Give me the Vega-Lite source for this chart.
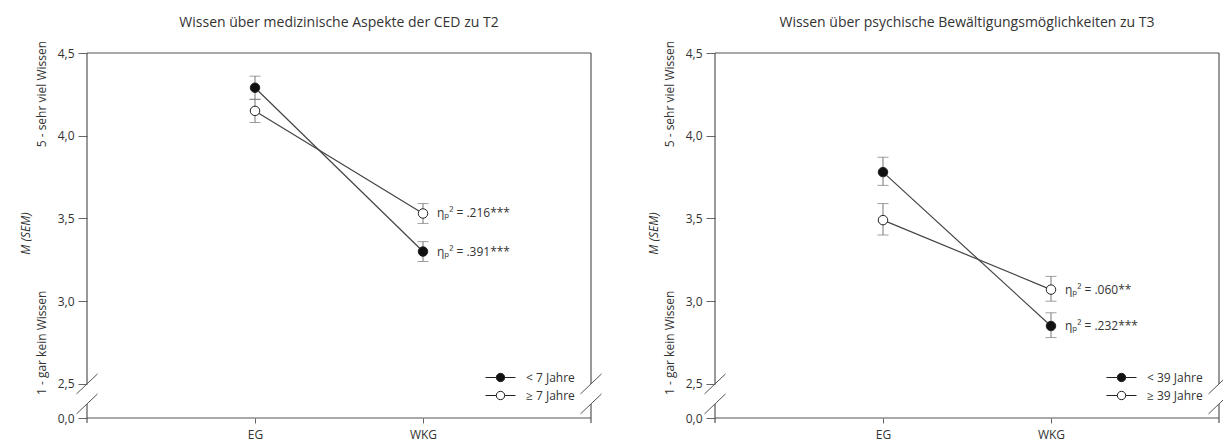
{
  "$schema": "https://vega.github.io/schema/vega-lite/v6.json",
  "padding": {"left": 19, "top": 16, "right": 0, "bottom": 5},
  "spacing": 45,
  "config": {
    "font": "Open Sans",
    "view": {"stroke": null},
    "title": {"fontSize": 14, "fontWeight": "normal", "color": "#333", "offset": 10, "anchor": "middle", "frame": "group"},
    "legend": {
      "orient": "bottom-right",
      "offset": 16,
      "padding": 0,
      "title": null,
      "symbolType": "M-1.667,0H-0.467M0.467,0H1.667M-0.467,0A0.467,0.467,0,1,1,0.467,0A0.467,0.467,0,1,1,-0.467,0Z",
      "symbolSize": 324,
      "symbolStrokeColor": "#222",
      "symbolStrokeWidth": 1,
      "labelFontSize": 12,
      "labelColor": "#333",
      "labelOffset": 16,
      "rowPadding": 2
    }
  },
  "datasets": {
    "ced": [
      {"Gruppe": "< 7 Jahre", "Zeitpunkt": "EG", "M": 4.29, "lo": 4.22, "hi": 4.36},
      {"Gruppe": "< 7 Jahre", "Zeitpunkt": "WKG", "M": 3.30, "lo": 3.24, "hi": 3.36, "eta": "ηₚ² = .391***"},
      {"Gruppe": "≥ 7 Jahre", "Zeitpunkt": "EG", "M": 4.15, "lo": 4.08, "hi": 4.22},
      {"Gruppe": "≥ 7 Jahre", "Zeitpunkt": "WKG", "M": 3.53, "lo": 3.47, "hi": 3.59, "eta": "ηₚ² = .216***"}
    ],
    "psy": [
      {"Gruppe": "< 39 Jahre", "Zeitpunkt": "EG", "M": 3.78, "lo": 3.70, "hi": 3.87},
      {"Gruppe": "< 39 Jahre", "Zeitpunkt": "WKG", "M": 2.85, "lo": 2.78, "hi": 2.93, "eta": "ηₚ² = .232***"},
      {"Gruppe": "≥ 39 Jahre", "Zeitpunkt": "EG", "M": 3.49, "lo": 3.40, "hi": 3.59},
      {"Gruppe": "≥ 39 Jahre", "Zeitpunkt": "WKG", "M": 3.07, "lo": 3.00, "hi": 3.15, "eta": "ηₚ² = .060**"}
    ]
  },
  "resolve": {"scale": {"fill": "independent"}, "legend": {"fill": "independent"}},
  "hconcat": [
    {
      "width": 504,
      "height": 365,
      "title": {"text": "Wissen über medizinische Aspekte der CED zu T2"},
      "resolve": {"scale": {"y": "independent"}},
      "layer": [
        {
          "layer": [
            {
              "data": {"name": "ced"},
              "mark": {"type": "errorbar", "ticks": {"size": 11}, "color": "#777", "thickness": 1},
              "encoding": {
                "x": {"field": "Zeitpunkt", "type": "ordinal",
                  "scale": {"type": "point", "domain": ["start", "EG", "WKG", "end"], "padding": 0},
                  "axis": {"values": ["EG", "WKG"], "domain": false, "grid": false, "tickSize": 5, "tickColor": "#666", "labelPadding": 6, "labelFontSize": 12, "labelColor": "#333", "labelAngle": 0, "title": null}},
                "y": {"field": "lo", "type": "quantitative",
                  "scale": {"domain": [2.294, 4.5], "nice": false, "zero": false},
                  "axis": {"values": [2.294, 2.5, 3, 3.5, 4, 4.5],
                    "labelExpr": "datum.value < 2.4 ? '0,0' : replace(format(datum.value, '.1f'), '.', ',')",
                    "domain": false, "grid": false, "tickSize": 9, "tickColor": "#666", "labelPadding": 4, "labelFontSize": 12, "labelColor": "#333",
                    "title": "1 - gar kein Wissen\u00a0\u00a0\u00a0\u00a0\u00a0\u00a0\u00a0\u00a0\u00a0\u00a0\u00a0\u00a0\u00a0\u00a0\u00a0\u00a0\u00a0\u00a0\u00a0\u00a0\u00a0\u00a0\u00a0\u00a0\u00a0\u00a0\u00a0\u00a0\u00a0\u00a0\u00a0\u00a0\u00a0\u00a0\u00a0\u00a0\u00a0\u00a0\u00a0\u00a0\u00a0\u00a0\u00a0\u00a0\u00a0\u00a05 - sehr viel Wissen",
                    "titleFontSize": 12, "titleFontWeight": "normal", "titleColor": "#333", "titlePadding": 9, "titleY": 164.5}},
                "y2": {"field": "hi"}
              }
            },
            {
              "data": {"name": "ced"},
              "mark": {"type": "line", "color": "#444", "strokeWidth": 1.2},
              "encoding": {
                "x": {"field": "Zeitpunkt", "type": "ordinal"},
                "y": {"field": "M", "type": "quantitative"},
                "detail": {"field": "Gruppe"}
              }
            },
            {
              "data": {"name": "ced"},
              "mark": {"type": "point", "shape": "circle", "filled": true, "size": 90, "stroke": "#222", "strokeWidth": 1, "opacity": 1},
              "encoding": {
                "x": {"field": "Zeitpunkt", "type": "ordinal"},
                "y": {"field": "M", "type": "quantitative"},
                "fill": {"field": "Gruppe", "type": "nominal", "scale": {"domain": ["< 7 Jahre", "≥ 7 Jahre"], "range": ["#111111", "#ffffff"]}}
              }
            },
            {
              "data": {"name": "ced"},
              "transform": [{"filter": "datum.eta"}],
              "mark": {"type": "text", "align": "left", "baseline": "middle", "dx": 14, "fontSize": 12, "color": "#333"},
              "encoding": {
                "x": {"field": "Zeitpunkt", "type": "ordinal"},
                "y": {"field": "M", "type": "quantitative"},
                "text": {"field": "eta"}
              }
            },
            {
              "data": {"values": [{}]},
              "layer": [
                {"mark": {"type": "rule", "color": "#555", "strokeWidth": 1.2},
                 "encoding": {"x": {"datum": "start", "type": "ordinal"}, "x2": {"datum": "end"}, "y": {"datum": 2.294, "type": "quantitative"}}},
                {"mark": {"type": "rule", "color": "#555", "strokeWidth": 1.2},
                 "encoding": {"x": {"datum": "start", "type": "ordinal"}, "y": {"datum": 2.5, "type": "quantitative"}, "y2": {"datum": 4.5}}},
                {"mark": {"type": "rule", "color": "#555", "strokeWidth": 1.2},
                 "encoding": {"x": {"datum": "end", "type": "ordinal"}, "y": {"datum": 2.5, "type": "quantitative"}, "y2": {"datum": 4.5}}},
                {"mark": {"type": "rule", "color": "#555", "strokeWidth": 1.2},
                 "encoding": {"x": {"datum": "start", "type": "ordinal"}, "y": {"datum": 2.264, "type": "quantitative"}, "y2": {"datum": 2.379}}},
                {"mark": {"type": "rule", "color": "#555", "strokeWidth": 1.2},
                 "encoding": {"x": {"datum": "end", "type": "ordinal"}, "y": {"datum": 2.264, "type": "quantitative"}, "y2": {"datum": 2.379}}},
                {"mark": {"type": "rule", "color": "#555", "strokeWidth": 1, "xOffset": -10.5, "x2Offset": 10.5, "yOffset": 10, "y2Offset": -10},
                 "encoding": {"x": {"datum": "start", "type": "ordinal"}, "x2": {"datum": "start"}, "y": {"datum": 2.5, "type": "quantitative"}, "y2": {"datum": 2.5}}},
                {"mark": {"type": "rule", "color": "#555", "strokeWidth": 1, "xOffset": -10.5, "x2Offset": 10.5, "yOffset": 10, "y2Offset": -10},
                 "encoding": {"x": {"datum": "start", "type": "ordinal"}, "x2": {"datum": "start"}, "y": {"datum": 2.379, "type": "quantitative"}, "y2": {"datum": 2.379}}},
                {"mark": {"type": "rule", "color": "#555", "strokeWidth": 1, "xOffset": -10.5, "x2Offset": 10.5, "yOffset": 10, "y2Offset": -10},
                 "encoding": {"x": {"datum": "end", "type": "ordinal"}, "x2": {"datum": "end"}, "y": {"datum": 2.5, "type": "quantitative"}, "y2": {"datum": 2.5}}},
                {"mark": {"type": "rule", "color": "#555", "strokeWidth": 1, "xOffset": -10.5, "x2Offset": 10.5, "yOffset": 10, "y2Offset": -10},
                 "encoding": {"x": {"datum": "end", "type": "ordinal"}, "x2": {"datum": "end"}, "y": {"datum": 2.379, "type": "quantitative"}, "y2": {"datum": 2.379}}}
              ]
            }
          ]
        },
        {
          "data": {"values": [{}]},
          "mark": {"type": "rule", "color": "#555", "strokeWidth": 1.2},
          "encoding": {
            "x": {"datum": "start", "type": "ordinal"},
            "x2": {"datum": "end"},
            "y": {"datum": 4.5, "type": "quantitative",
              "scale": {"domain": [2.294, 4.5], "nice": false, "zero": false},
              "axis": {"orient": "left", "labels": false, "ticks": false, "domain": false, "grid": false,
                "title": "M (SEM)", "titleFontStyle": "italic", "titleFontWeight": "normal", "titleFontSize": 12, "titleColor": "#333", "titlePadding": 55, "titleY": 180}}
          }
        }
      ]
    },
    {
      "width": 504,
      "height": 365,
      "title": {"text": "Wissen über psychische Bewältigungsmöglichkeiten zu T3"},
      "resolve": {"scale": {"y": "independent"}},
      "layer": [
        {
          "layer": [
            {
              "data": {"name": "psy"},
              "mark": {"type": "errorbar", "ticks": {"size": 11}, "color": "#777", "thickness": 1},
              "encoding": {
                "x": {"field": "Zeitpunkt", "type": "ordinal",
                  "scale": {"type": "point", "domain": ["start", "EG", "WKG", "end"], "padding": 0},
                  "axis": {"values": ["EG", "WKG"], "domain": false, "grid": false, "tickSize": 5, "tickColor": "#666", "labelPadding": 6, "labelFontSize": 12, "labelColor": "#333", "labelAngle": 0, "title": null}},
                "y": {"field": "lo", "type": "quantitative",
                  "scale": {"domain": [2.294, 4.5], "nice": false, "zero": false},
                  "axis": {"values": [2.294, 2.5, 3, 3.5, 4, 4.5],
                    "labelExpr": "datum.value < 2.4 ? '0,0' : replace(format(datum.value, '.1f'), '.', ',')",
                    "domain": false, "grid": false, "tickSize": 9, "tickColor": "#666", "labelPadding": 4, "labelFontSize": 12, "labelColor": "#333",
                    "title": "1 - gar kein Wissen\u00a0\u00a0\u00a0\u00a0\u00a0\u00a0\u00a0\u00a0\u00a0\u00a0\u00a0\u00a0\u00a0\u00a0\u00a0\u00a0\u00a0\u00a0\u00a0\u00a0\u00a0\u00a0\u00a0\u00a0\u00a0\u00a0\u00a0\u00a0\u00a0\u00a0\u00a0\u00a0\u00a0\u00a0\u00a0\u00a0\u00a0\u00a0\u00a0\u00a0\u00a0\u00a0\u00a0\u00a0\u00a0\u00a05 - sehr viel Wissen",
                    "titleFontSize": 12, "titleFontWeight": "normal", "titleColor": "#333", "titlePadding": 9, "titleY": 164.5}},
                "y2": {"field": "hi"}
              }
            },
            {
              "data": {"name": "psy"},
              "mark": {"type": "line", "color": "#444", "strokeWidth": 1.2},
              "encoding": {
                "x": {"field": "Zeitpunkt", "type": "ordinal"},
                "y": {"field": "M", "type": "quantitative"},
                "detail": {"field": "Gruppe"}
              }
            },
            {
              "data": {"name": "psy"},
              "mark": {"type": "point", "shape": "circle", "filled": true, "size": 90, "stroke": "#222", "strokeWidth": 1, "opacity": 1},
              "encoding": {
                "x": {"field": "Zeitpunkt", "type": "ordinal"},
                "y": {"field": "M", "type": "quantitative"},
                "fill": {"field": "Gruppe", "type": "nominal", "scale": {"domain": ["< 39 Jahre", "≥ 39 Jahre"], "range": ["#111111", "#ffffff"]}}
              }
            },
            {
              "data": {"name": "psy"},
              "transform": [{"filter": "datum.eta"}],
              "mark": {"type": "text", "align": "left", "baseline": "middle", "dx": 14, "fontSize": 12, "color": "#333"},
              "encoding": {
                "x": {"field": "Zeitpunkt", "type": "ordinal"},
                "y": {"field": "M", "type": "quantitative"},
                "text": {"field": "eta"}
              }
            },
            {
              "data": {"values": [{}]},
              "layer": [
                {"mark": {"type": "rule", "color": "#555", "strokeWidth": 1.2},
                 "encoding": {"x": {"datum": "start", "type": "ordinal"}, "x2": {"datum": "end"}, "y": {"datum": 2.294, "type": "quantitative"}}},
                {"mark": {"type": "rule", "color": "#555", "strokeWidth": 1.2},
                 "encoding": {"x": {"datum": "start", "type": "ordinal"}, "y": {"datum": 2.5, "type": "quantitative"}, "y2": {"datum": 4.5}}},
                {"mark": {"type": "rule", "color": "#555", "strokeWidth": 1.2},
                 "encoding": {"x": {"datum": "end", "type": "ordinal"}, "y": {"datum": 2.5, "type": "quantitative"}, "y2": {"datum": 4.5}}},
                {"mark": {"type": "rule", "color": "#555", "strokeWidth": 1.2},
                 "encoding": {"x": {"datum": "start", "type": "ordinal"}, "y": {"datum": 2.264, "type": "quantitative"}, "y2": {"datum": 2.379}}},
                {"mark": {"type": "rule", "color": "#555", "strokeWidth": 1.2},
                 "encoding": {"x": {"datum": "end", "type": "ordinal"}, "y": {"datum": 2.264, "type": "quantitative"}, "y2": {"datum": 2.379}}},
                {"mark": {"type": "rule", "color": "#555", "strokeWidth": 1, "xOffset": -10.5, "x2Offset": 10.5, "yOffset": 10, "y2Offset": -10},
                 "encoding": {"x": {"datum": "start", "type": "ordinal"}, "x2": {"datum": "start"}, "y": {"datum": 2.5, "type": "quantitative"}, "y2": {"datum": 2.5}}},
                {"mark": {"type": "rule", "color": "#555", "strokeWidth": 1, "xOffset": -10.5, "x2Offset": 10.5, "yOffset": 10, "y2Offset": -10},
                 "encoding": {"x": {"datum": "start", "type": "ordinal"}, "x2": {"datum": "start"}, "y": {"datum": 2.379, "type": "quantitative"}, "y2": {"datum": 2.379}}},
                {"mark": {"type": "rule", "color": "#555", "strokeWidth": 1, "xOffset": -10.5, "x2Offset": 10.5, "yOffset": 10, "y2Offset": -10},
                 "encoding": {"x": {"datum": "end", "type": "ordinal"}, "x2": {"datum": "end"}, "y": {"datum": 2.5, "type": "quantitative"}, "y2": {"datum": 2.5}}},
                {"mark": {"type": "rule", "color": "#555", "strokeWidth": 1, "xOffset": -10.5, "x2Offset": 10.5, "yOffset": 10, "y2Offset": -10},
                 "encoding": {"x": {"datum": "end", "type": "ordinal"}, "x2": {"datum": "end"}, "y": {"datum": 2.379, "type": "quantitative"}, "y2": {"datum": 2.379}}}
              ]
            }
          ]
        },
        {
          "data": {"values": [{}]},
          "mark": {"type": "rule", "color": "#555", "strokeWidth": 1.2},
          "encoding": {
            "x": {"datum": "start", "type": "ordinal"},
            "x2": {"datum": "end"},
            "y": {"datum": 4.5, "type": "quantitative",
              "scale": {"domain": [2.294, 4.5], "nice": false, "zero": false},
              "axis": {"orient": "left", "labels": false, "ticks": false, "domain": false, "grid": false,
                "title": "M (SEM)", "titleFontStyle": "italic", "titleFontWeight": "normal", "titleFontSize": 12, "titleColor": "#333", "titlePadding": 55, "titleY": 180}}
          }
        }
      ]
    }
  ]
}
